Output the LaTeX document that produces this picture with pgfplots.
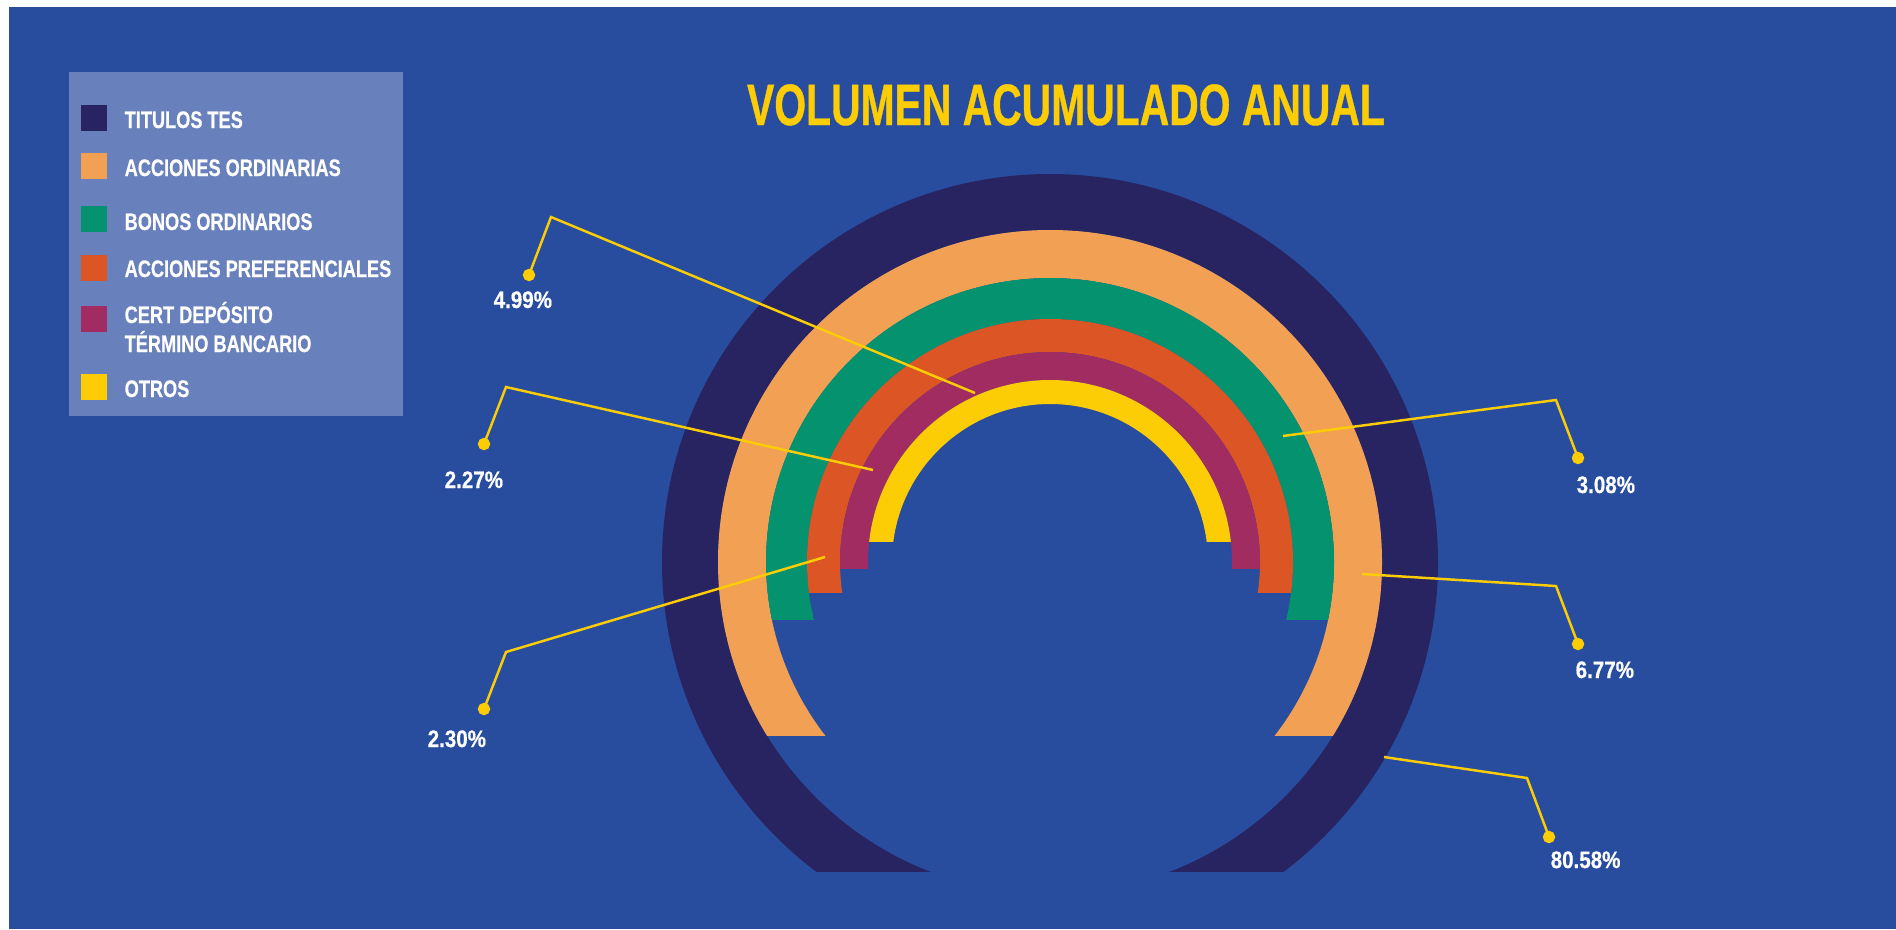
\documentclass[border=0pt]{standalone}
\usepackage{pgfplots}
\pgfplotsset{compat=1.18}
\usepackage{fontspec}
\setmainfont{Liberation Sans}
\newfontfamily\titlefont{Liberation Sans}[FakeStretch=0.70, BoldFeatures={FakeBold=0.6}]
\newfontfamily\legfont{Liberation Sans}[FakeStretch=0.76, BoldFeatures={FakeBold=0.5}]
\newfontfamily\numfont{Liberation Sans}[FakeStretch=0.86, BoldFeatures={FakeBold=0.5}]

\definecolor{bgblue}{HTML}{284D9F}
\definecolor{boxblue}{HTML}{6880BB}
\definecolor{tes}{HTML}{282462}
\definecolor{accord}{HTML}{F2A154}
\definecolor{bonos}{HTML}{04926F}
\definecolor{accpref}{HTML}{DB5624}
\definecolor{cdt}{HTML}{A02C62}
\definecolor{otros}{HTML}{FCCC05}

% ring: colour, inner radius, outer radius, height of the flat cut
\newcommand{\ring}[4]{%
  \begin{scope}
    \clip (axis cs:0,#4) rectangle (axis cs:1896,929);
    \fill[#1, even odd rule] (axis cs:1050,367) circle[radius=#3]
                             (axis cs:1050,367) circle[radius=#2];
  \end{scope}}

\tikzset{leader/.style={draw=otros, line width=0.7pt, solid,
    mark=*, mark size=1.4pt, mark indices={1},
    mark options={draw=otros, fill=otros, solid}}}

\begin{document}
\begin{tikzpicture}
\begin{axis}[
    x=0.01cm, y=0.01cm,
    xmin=0, xmax=1896, ymin=0, ymax=929,
    hide axis, clip=false,
  ]
  % background
  \fill[white] (axis cs:0,0) rectangle (axis cs:1896,929);
  \fill[bgblue] (axis cs:9,0) rectangle (axis cs:1896,922);

  % rings (outer to inner)
  \ring{tes}{332}{388}{58}
  \ring{accord}{284}{332}{194}
  \ring{bonos}{243}{284}{310}
  \ring{accpref}{210}{243}{337}
  \ring{cdt}{182}{210}{361}
  \ring{otros}{158}{182}{388}

  % leader lines: dot, knee, ring
  \addplot[leader] coordinates {(529,654) (551,712) (975,536)};
  \addplot[leader] coordinates {(484,485) (506,542) (873,459)};
  \addplot[leader] coordinates {(484,220) (506,277) (825,372)};
  \addplot[leader] coordinates {(1578,471) (1556,529) (1283,493)};
  \addplot[leader] coordinates {(1578,285) (1556,343) (1362,355)};
  \addplot[leader] coordinates {(1549,92) (1527,151) (1384,172)};

  \begin{scope}[every node/.style={inner sep=0pt, anchor=base west, text=white,
      font=\numfont\bfseries\fontsize{6.8}{8}\selectfont}]
    \node at (axis cs:493,621) {4.99\%};
    \node at (axis cs:444,441) {2.27\%};
    \node at (axis cs:427,182) {2.30\%};
    \node at (axis cs:1576,436) {3.08\%};
    \node at (axis cs:1575,251) {6.77\%};
    \node at (axis cs:1550,61) {80.58\%};
  \end{scope}

  % title
  \node[inner sep=0pt, anchor=base, text=otros,
    font=\titlefont\bfseries\fontsize{16.6}{18}\selectfont]
    at (axis cs:1066,804) {VOLUMEN ACUMULADO ANUAL};

  % legend
  \fill[boxblue] (axis cs:69,513) rectangle (axis cs:403,857);
  \fill[tes]     (axis cs:81,798) rectangle (axis cs:107,824);
  \fill[accord]  (axis cs:81,750) rectangle (axis cs:107,776);
  \fill[bonos]   (axis cs:81,697) rectangle (axis cs:107,723);
  \fill[accpref] (axis cs:81,648) rectangle (axis cs:107,674);
  \fill[cdt]     (axis cs:81,597) rectangle (axis cs:107,623);
  \fill[otros]   (axis cs:81,529) rectangle (axis cs:107,555);
  \begin{scope}[every node/.style={inner sep=0pt, anchor=base west, text=white,
      font=\legfont\bfseries\fontsize{6.8}{8}\selectfont}]
    \node at (axis cs:124,801) {TITULOS TES};
    \node at (axis cs:124,753) {ACCIONES ORDINARIAS};
    \node at (axis cs:124,699) {BONOS ORDINARIOS};
    \node at (axis cs:124,652) {ACCIONES PREFERENCIALES};
    \node at (axis cs:124,606) {CERT DEPÓSITO};
    \node at (axis cs:124,577) {TÉRMINO BANCARIO};
    \node at (axis cs:124,532) {OTROS};
  \end{scope}
\end{axis}
\end{tikzpicture}
\end{document}
